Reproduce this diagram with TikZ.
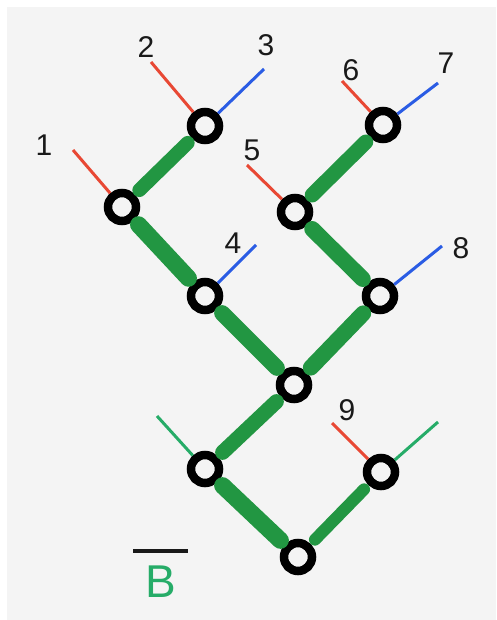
\documentclass[tikz,border=0pt]{standalone}
\usepackage{fontspec}
\setmainfont{Liberation Sans}
\definecolor{penred}{RGB}{232,72,52}
\definecolor{penblue}{RGB}{42,92,228}
\definecolor{pengreen}{RGB}{34,150,66}
\definecolor{penmint}{RGB}{38,172,104}
\definecolor{paper}{RGB}{244,244,244}

\begin{document}
\begin{tikzpicture}[
    x=1pt, y=-1pt,
    vertex/.style={draw=black, circle, line width=8.5pt, minimum size=28pt, inner sep=0pt, fill=paper},
    limb/.style={pengreen, line cap=round, shorten <=6pt, shorten >=6pt},
    stub/.style={line width=3pt},
    tag/.style={font=\fontsize{30}{32}\selectfont, text=black!90, inner sep=0pt}
  ]
    \useasboundingbox (0,0) rectangle (496,620);
    \fill[white] (0,0) rectangle (496,620);
    \fill[paper] (7,7) rectangle (496,620);

    % free ends of the leaf stubs
    \coordinate (t1) at (73,150);
    \coordinate (t2) at (151,62);
    \coordinate (t3) at (264,69);
    \coordinate (t4) at (256,245);
    \coordinate (t5) at (247,165);
    \coordinate (t6) at (342,81);
    \coordinate (t7) at (438,83);
    \coordinate (t8) at (442,246);
    \coordinate (t9) at (332,423);
    \coordinate (tl) at (157,416);
    \coordinate (tr) at (438,422);

    \node[vertex] (v1) at (122,207) {};
    \node[vertex] (v2) at (205,126) {};
    \node[vertex] (v4) at (205,296) {};
    \node[vertex] (v5) at (295,212) {};
    \node[vertex] (v6) at (383,125) {};
    \node[vertex] (v8) at (380,296) {};
    \node[vertex] (vm) at (294,385) {};
    \node[vertex] (vl) at (205,469) {};
    \node[vertex] (v9) at (381,472) {};
    \node[vertex] (vb) at (298,557) {};

    \foreach \a/\b/\w in {v1/v2/14pt, v1/v4/17pt, v4/vm/16pt, v5/v6/15pt, v5/v8/16pt,
                          v8/vm/16pt, vm/vl/15pt, vl/vb/17pt, vb/v9/12pt}
      \draw[limb, line width=\w] (\a) -- (\b);

    \foreach \a/\b/\c in {v1/t1/penred, v2/t2/penred, v2/t3/penblue, v4/t4/penblue,
                          v5/t5/penred, v6/t6/penred, v6/t7/penblue, v8/t8/penblue,
                          v9/t9/penred, vl/tl/penmint, v9/tr/penmint}
      \draw[stub, \c] (\a) -- (\b);

    \node[tag] (l1) at (44,145) {1};
    \node[tag] (l2) at (146,47) {2};
    \node[tag] (l3) at (266,45) {3};
    \node[tag] (l4) at (233,243) {4};
    \node[tag] (l5) at (252,150) {5};
    \node[tag] (l6) at (351,70) {6};
    \node[tag] (l7) at (446,63) {7};
    \node[tag] (l8) at (461,248) {8};
    \node[tag] (l9) at (347,410) {9};

    \node[tag, text=penmint, font=\fontsize{46}{48}\selectfont] (bee) at (161,582) {B};
    \draw[line width=4pt, black!90] (133,551) -- (188,551);
  \end{tikzpicture}
\end{document}
